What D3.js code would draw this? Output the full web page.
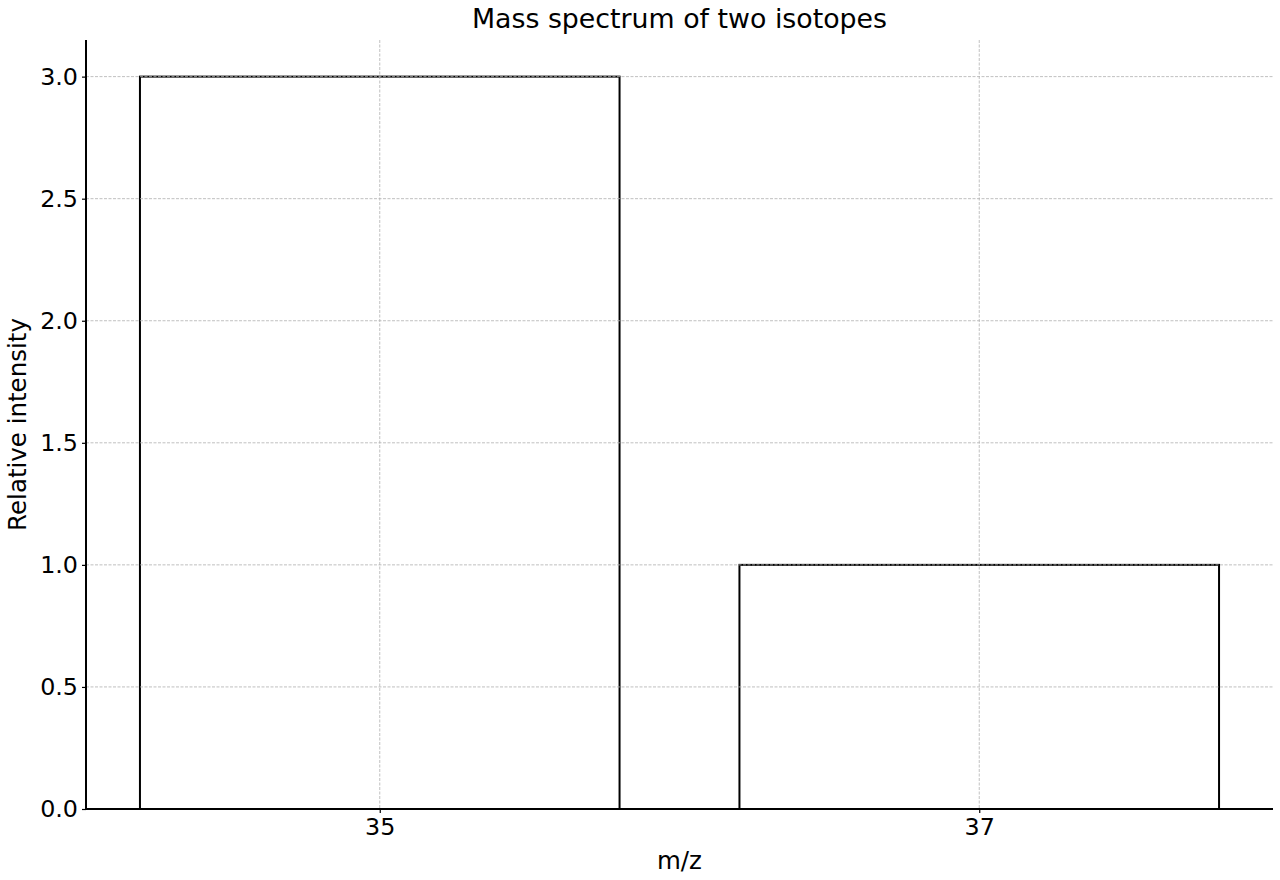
<!DOCTYPE html>
<style>
body { margin: 0; background: #fff; }
text { font-family: "DejaVu Sans", sans-serif; }
</style>
<svg width="1280" height="880"></svg>
<script src="https://d3js.org/d3.v7.min.js"></script>
<script>

var masses = [35, 37];
var intensities = [3, 1];
var yTicks = [0, 0.5, 1, 1.5, 2, 2.5, 3];

var svg = d3.select("svg"),
    margin = {top: 40, right: 7, bottom: 71, left: 86},
    width = +svg.attr("width") - margin.left - margin.right,
    height = +svg.attr("height") - margin.top - margin.bottom,
    g = svg.append("g").attr("transform", "translate(" + margin.left + "," + margin.top + ")");

var barWidth = 1.6;

// matplotlib style 5% margins around the bar extent
var x = d3.scaleLinear()
    .domain([34.02, 37.98])
    .range([0, width]);

var y = d3.scaleLinear()
    .domain([0, 3.15])
    .range([height, 0]);

// bars: outline only
g.append("g")
  .selectAll("rect")
  .data(masses)
  .enter().append("rect")
    .attr("x", function(d) { return x(d - barWidth / 2); })
    .attr("y", function(d, i) { return y(intensities[i]); })
    .attr("width", function(d) { return x(d + barWidth / 2) - x(d - barWidth / 2); })
    .attr("height", function(d, i) { return y(0) - y(intensities[i]); })
    .attr("fill", "none")
    .attr("stroke", "#000")
    .attr("stroke-width", 2);

// grid on top
var grid = g.append("g")
    .attr("stroke", "#b0b0b0")
    .attr("stroke-width", 0.8)
    .attr("stroke-dasharray", "3,1.5");

grid.selectAll(".gy")
  .data(yTicks)
  .enter().append("line")
    .attr("x1", 0).attr("x2", width)
    .attr("y1", function(d) { return y(d); })
    .attr("y2", function(d) { return y(d); });

grid.selectAll(".gx")
  .data(masses)
  .enter().append("line")
    .attr("y1", 0).attr("y2", height)
    .attr("x1", function(d) { return x(d); })
    .attr("x2", function(d) { return x(d); });

var xAxis = g.append("g")
    .attr("transform", "translate(0," + height + ")")
    .call(d3.axisBottom(x).tickValues(masses).tickSize(4).tickPadding(5).tickFormat(d3.format("d")));

var yAxis = g.append("g")
    .call(d3.axisLeft(y).tickValues(yTicks).tickSize(4).tickPadding(4).tickFormat(d3.format(".1f")));

[xAxis, yAxis].forEach(function(a) {
  a.attr("font-size", 23.8).attr("font-family", "DejaVu Sans");
  a.selectAll("text").attr("fill", "#000");
  a.selectAll(".tick line").attr("stroke", "#000").attr("stroke-width", 1.2);
  a.select(".domain").attr("stroke", "#000").attr("stroke-width", 2);
});

// rebuild domain lines without the outer ticks
xAxis.select(".domain").attr("d", "M0,0H" + width);
yAxis.select(".domain").attr("d", "M0,0V" + height);

svg.append("text")
    .attr("x", margin.left + width / 2)
    .attr("y", 28)
    .attr("text-anchor", "middle")
    .attr("font-size", 26.8)
    .text("Mass spectrum of two isotopes");

svg.append("text")
    .attr("x", margin.left + width / 2)
    .attr("y", 869)
    .attr("text-anchor", "middle")
    .attr("font-size", 24.5)
    .text("m/z");

svg.append("text")
    .attr("transform", "translate(26," + (margin.top + height / 2) + ") rotate(-90)")
    .attr("text-anchor", "middle")
    .attr("font-size", 24.5)
    .text("Relative intensity");

</script>
